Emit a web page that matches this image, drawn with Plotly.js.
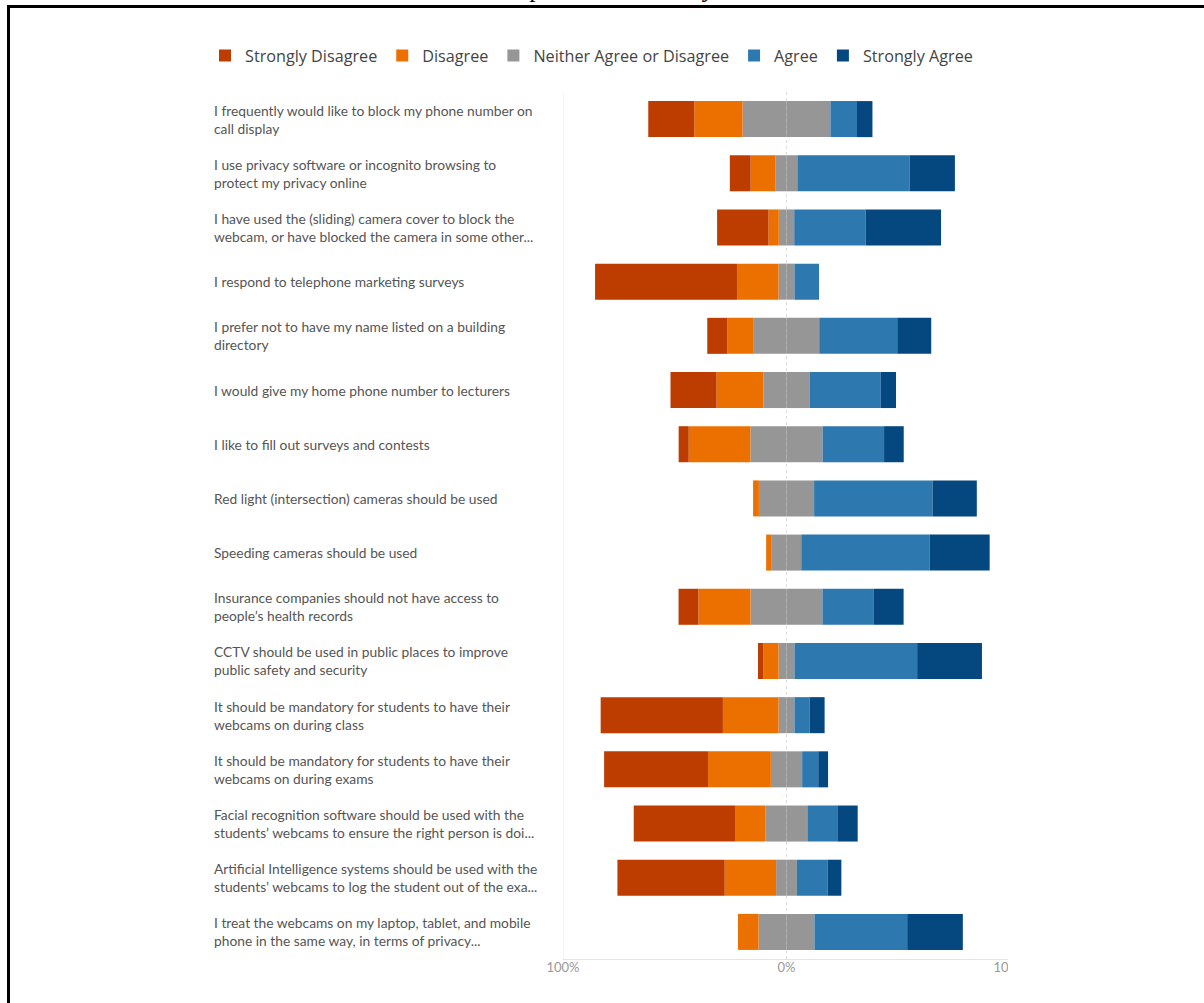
<!DOCTYPE html>
<html><head><meta charset="utf-8">
<script src="https://cdn.plot.ly/plotly-3.0.1.min.js"></script>
<style>
html,body{margin:0;padding:0;background:#fff;overflow:hidden}
#chart{width:1204px;height:1003px}
#frame{position:absolute;left:7px;top:5px;width:1300px;height:1100px;border-left:3px solid #000;border-top:3px solid #000;pointer-events:none}
</style></head><body>
<div id="chart"></div><div id="frame"></div>
<script>
const statements = [
  "I frequently would like to block my phone number on<br>call display",
  "I use privacy software or incognito browsing to<br>protect my privacy online",
  "I have used the (sliding) camera cover to block the<br>webcam, or have blocked the camera in some other...",
  "I respond to telephone marketing surveys",
  "I prefer not to have my name listed on a building<br>directory",
  "I would give my home phone number to lecturers",
  "I like to fill out surveys and contests",
  "Red light (intersection) cameras should be used",
  "Speeding cameras should be used",
  "Insurance companies should not have access to<br>people’s health records",
  "CCTV should be used in public places to improve<br>public safety and security",
  "It should be mandatory for students to have their<br>webcams on during class",
  "It should be mandatory for students to have their<br>webcams on during exams",
  "Facial recognition software should be used with the<br>students’ webcams to ensure the right person is doi...",
  "Artificial Intelligence systems should be used with the<br>students’ webcams to log the student out of the exa...",
  "I treat the webcams on my laptop, tablet, and mobile<br>phone in the same way, in terms of privacy..."
];
const stronglyDisagree = [20.6, 9.3, 23.0, 63.5, 8.9, 20.6, 4.5, 0, 0, 8.9, 2.3, 54.7, 46.5, 45.3, 48.0, 0];
const disagree         = [21.6, 11.2, 4.6, 18.6, 11.9, 21.0, 27.6, 2.6, 2.5, 23.3, 6.9, 24.9, 28.1, 13.7, 23.0, 9.2];
const neither          = [39.3, 9.7, 6.9, 7.1, 29.3, 20.6, 32.3, 24.7, 13.2, 32.2, 7.1, 7.1, 14.0, 18.7, 9.3, 25.0];
const agree            = [11.9, 50.2, 32.0, 11.0, 34.9, 31.9, 27.5, 53.0, 57.5, 23.0, 54.9, 6.8, 7.2, 13.4, 13.7, 41.5];
const stronglyAgree    = [6.9, 20.3, 33.7, 0, 15.2, 6.8, 8.8, 19.8, 26.8, 13.3, 29.0, 6.7, 4.4, 9.1, 6.2, 24.9];
const seriesNames = ["Strongly Disagree", "Disagree", "Neither Agree or Disagree", "Agree", "Strongly Agree"];
const tickValues = [-100, 0, 100];
const tickLabels = ["100%", "0%", "100%"];
const titleText = "Table 4: Responses to Privacy Scenarios";

const colors = ["#BD3D00", "#EC7000", "#969696", "#2E78B0", "#04487F"];
const W = 1204, H = 1003, L = 563, R = 1010, T = 92, B = 959;
const px = v => (v - L) / (R - L);
const py = v => (B - v) / (B - T);

function bar(name, x, color, rank, show, group) {
  return {type: "bar", orientation: "h", name: name, x: x, y: statements,
    marker: {color: color, line: {width: 0}}, legendrank: rank, showlegend: show,
    legendgroup: group || name, hoverinfo: "name+x"};
}
const traces = [
  bar(seriesNames[2], neither.map(v => -v / 2), colors[2], 3, false, "n"),
  bar(seriesNames[1], disagree.map(v => -v), colors[1], 2, true),
  bar(seriesNames[0], stronglyDisagree.map(v => -v), colors[0], 1, true),
  bar(seriesNames[2], neither.map(v => v / 2), colors[2], 3, true, "n"),
  bar(seriesNames[3], agree, colors[3], 4, true),
  bar(seriesNames[4], stronglyAgree, colors[4], 5, true)
];

const labelFont = {family: "Lato", size: 13.8, color: "#555"};
const annotations = statements.map(s => ({
  xref: "paper", x: px(212), xanchor: "left", yref: "y", y: s, yanchor: "middle",
  text: s, align: "left", showarrow: false, font: labelFont
}));
annotations.push({xref: "paper", yref: "paper", x: px(613), y: py(5), xanchor: "center", yanchor: "bottom",
  text: titleText, showarrow: false, font: {family: "Liberation Serif", size: 26, style: "italic", color: "#000"}});

const layout = {
  width: W, height: H, margin: {l: L, r: W - R, t: T, b: H - B, pad: 0},
  paper_bgcolor: "#fff", plot_bgcolor: "#fff",
  barmode: "relative", bargap: 0.335,
  xaxis: {range: [-100, 100], tickvals: tickValues, ticktext: tickLabels, showgrid: false, zeroline: false,
    showline: true, linecolor: "#e4e4e4", linewidth: 1, ticks: "", ticklabelstandoff: -4,
    tickfont: {family: "Lato", size: 13, color: "#999"}, fixedrange: true},
  yaxis: {type: "category", categoryorder: "array", categoryarray: statements, autorange: "reversed",
    showticklabels: false, showgrid: false, zeroline: false, fixedrange: true},
  legend: {orientation: "h", x: px(205), xanchor: "left", y: py(56), yanchor: "middle",
    font: {family: "Open Sans", size: 16.2, color: "#444"}, bgcolor: "rgba(0,0,0,0)", itemclick: false},
  shapes: [
    {type: "line", xref: "x", yref: "paper", x0: -100, x1: -100, y0: 0, y1: 1, line: {color: "#ececec", width: 1}, layer: "below"},
    {type: "line", xref: "x", yref: "paper", x0: 0, x1: 0, y0: 0, y1: 1, line: {color: "#dcdcdc", width: 1, dash: "3px,3px"}, layer: "below"},
    {type: "rect", xref: "paper", yref: "paper", x0: px(1008), x1: px(1204), y0: py(1003), y1: py(80), fillcolor: "#fff", line: {width: 0}, layer: "above"}
  ],
  annotations: annotations,
  showlegend: true
};
Plotly.newPlot("chart", traces, layout, {displayModeBar: false, staticPlot: false});
</script>
</body></html>
